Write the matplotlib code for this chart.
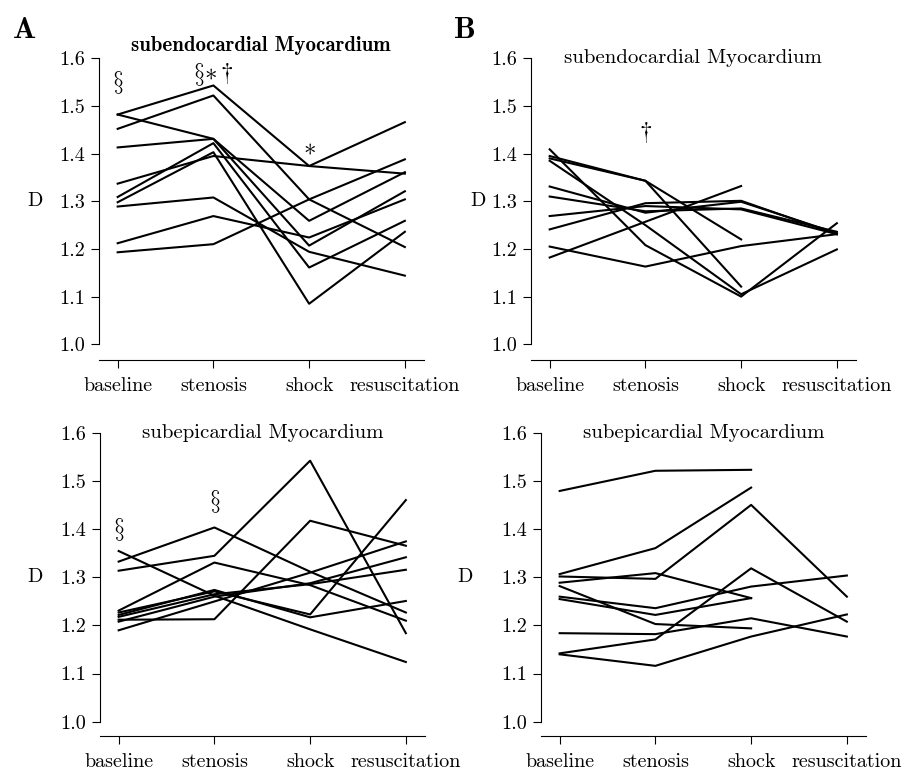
import numpy as np
import matplotlib
matplotlib.use('Agg')
import matplotlib.pyplot as plt

plt.rcParams['mathtext.fontset'] = 'cm'
plt.rcParams['font.family'] = ['cmr10', 'DejaVu Serif']
plt.rcParams['axes.formatter.use_mathtext'] = True

stages = ['baseline', 'stenosis', 'shock', 'resuscitation']
yticks = [1.0, 1.1, 1.2, 1.3, 1.4, 1.5, 1.6]
ytick_labels = ['1.0', '1.1', '1.2', '1.3', '1.4', '1.5', '1.6']
nan = np.nan

# A, subendocardial
endo_a = [
    [1.482, 1.543, 1.374, 1.466],
    [1.452, 1.522, 1.304, 1.204],
    [1.482, 1.431, 1.259, 1.361],
    [1.413, 1.431, 1.207, 1.321],
    [1.337, 1.395, 1.374, 1.358],
    [1.309, 1.422, 1.161, 1.259],
    [1.298, 1.403, 1.085, 1.236],
    [1.289, 1.308, 1.194, 1.144],
    [1.212, 1.269, 1.224, 1.304],
    [1.193, 1.210, 1.304, 1.388],
]
# B, subendocardial
endo_b = [
    [1.182, 1.257, 1.332, nan],
    [1.205, 1.163, 1.206, 1.231],
    [1.241, 1.296, 1.301, 1.231],
    [1.269, 1.290, 1.283, 1.231],
    [1.310, 1.279, 1.285, 1.236],
    [1.331, 1.276, 1.299, 1.233],
    [1.409, 1.208, 1.100, 1.254],
    [1.395, 1.343, 1.121, nan],
    [1.390, 1.343, 1.220, nan],
    [1.385, 1.250, 1.105, 1.199],
]
# A, subepicardial
epi_a = [
    [1.314, 1.345, 1.543, 1.184],
    [1.333, 1.404, 1.312, 1.227],
    [1.355, 1.262, 1.192, 1.124],
    [1.231, 1.331, 1.284, 1.210],
    [1.212, 1.213, 1.418, 1.366],
    [1.190, 1.250, 1.310, 1.375],
    [1.227, 1.271, 1.223, 1.461],
    [1.222, 1.274, 1.217, 1.251],
    [1.208, 1.260, 1.288, 1.342],
    [1.218, 1.265, 1.286, 1.316],
]
# B, subepicardial
epi_b = [
    [1.480, 1.522, 1.524, nan],
    [1.307, 1.361, 1.487, nan],
    [1.302, 1.297, 1.451, 1.260],
    [1.289, 1.309, 1.257, nan],
    [1.260, 1.236, 1.281, 1.304],
    [1.255, 1.222, 1.257, nan],
    [1.282, 1.203, 1.194, nan],
    [1.184, 1.182, 1.215, 1.177],
    [1.142, 1.171, 1.319, 1.208],
    [1.140, 1.116, 1.177, 1.223],
]

# significance marks: (stage index, y, text)
marks_endo_a = [(0, 1.55, r'$\S$'), (1, 1.565, r'$\S{*}\dagger$'), (2, 1.41, r'$*$')]
marks_endo_b = [(1, 1.445, r'$\dagger$')]
marks_epi_a = [(0, 1.40, r'$\S$'), (1, 1.458, r'$\S$')]
marks_epi_b = []

W, H = 919, 771
fig = plt.figure(figsize=(W / 100, H / 100), dpi=100)
AXW = 325


def px_axes(left, top, bottom):
    return fig.add_axes([left / W, 1 - bottom / H, AXW / W, (bottom - top) / H])


def draw(ax, data, title, marks, ybot, dx, bold=False, title_y=1.6):
    x = np.arange(len(stages))
    for row in data:
        ax.plot(x, row, color='black', lw=1.5)
    ax.set_xlim(-0.195, 3.2)
    ax.set_ylim(ybot, 1.6)
    ax.set_xticks(x)
    ax.set_xticklabels(stages, fontsize=14.5)
    ax.set_yticks(yticks)
    ax.set_yticklabels(ytick_labels, fontsize=14.5)
    for s in ['top', 'right']:
        ax.spines[s].set_visible(False)
    ax.spines['left'].set_bounds(1.0, 1.6)
    ax.spines['left'].set_linewidth(0.8)
    ax.spines['bottom'].set_linewidth(0.8)
    ax.tick_params(direction='out', length=6, width=0.8)
    ax.tick_params(axis='x', pad=6)
    ax.tick_params(axis='y', pad=4)
    ax.set_ylabel('D', rotation=0, fontsize=14.5, va='center', ha='center')
    ax.yaxis.set_label_coords(dx / AXW, (1.3 - ybot) / (1.6 - ybot))
    fam = 'cmb10' if bold else 'cmr10'
    ax.text(1.5, title_y, title, ha='center', va='center', fontsize=15, family=fam)
    for i, y, t in marks:
        ax.text(i, y, t, ha='center', va='center', fontsize=18)


ax1 = px_axes(99, 58.3, 360)
draw(ax1, endo_a, 'subendocardial Myocardium', marks_endo_a, 0.967, -64, bold=True, title_y=1.627)
ax2 = px_axes(531, 58.3, 360)
draw(ax2, endo_b, 'subendocardial Myocardium', marks_endo_b, 0.967, -53)
ax3 = px_axes(100, 433.3, 736)
draw(ax3, epi_a, 'subepicardial Myocardium', marks_epi_a, 0.970, -65)
ax4 = px_axes(541, 433.3, 736)
draw(ax4, epi_b, 'subepicardial Myocardium', marks_epi_b, 0.970, -76)

fig.text(24 / W, 1 - 30 / H, 'A', fontsize=22, family='cmb10', ha='center', va='center')
fig.text(465 / W, 1 - 30 / H, 'B', fontsize=22, family='cmb10', ha='center', va='center')

fig.savefig('out.png', dpi=100)
